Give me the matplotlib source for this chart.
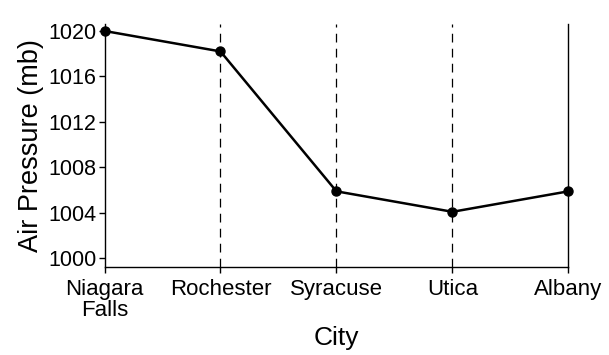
import matplotlib.pyplot as plt

cities = ['Niagara\nFalls', 'Rochester', 'Syracuse', 'Utica', 'Albany']
pressure = [1020.0, 1018.2, 1005.9, 1004.1, 1005.9]
yticks = [1000, 1004, 1008, 1012, 1016, 1020]

plt.rcParams['font.family'] = ['Liberation Sans', 'DejaVu Sans']

fig = plt.figure(figsize=(6.09, 3.55), dpi=100)
ax = fig.add_axes([0.1716, 0.248, 0.7617, 0.684])

x = list(range(len(cities)))
ymin, ymax = 999.25, 1020.6

# dashed guide lines for the middle cities
for xi in x[1:-1]:
    ax.plot([xi, xi], [ymin, ymax], color='black', lw=0.9,
            dashes=(7, 5), zorder=1)

ax.plot(x, pressure, color='black', lw=1.8, marker='o', markersize=6.5,
        zorder=3, clip_on=False)

ax.set_xlim(0, len(cities) - 1)
ax.set_ylim(ymin, ymax)
ax.set_xticks(x)
ax.set_xticklabels(cities, fontsize=16, linespacing=0.95)
ax.set_yticks(yticks)
ax.set_yticklabels([str(v) for v in yticks], fontsize=15.5)
ax.tick_params(direction='out', length=4, width=1, pad=2)
ax.tick_params(axis='x', pad=5)

ax.spines['top'].set_visible(False)
for s in ['left', 'bottom', 'right']:
    ax.spines[s].set_linewidth(1.0)

ax.set_xlabel('City', fontsize=19, labelpad=4)
ax.set_ylabel('Air Pressure (mb)', fontsize=19.5, labelpad=3)

fig.savefig('out.png', dpi=100)
